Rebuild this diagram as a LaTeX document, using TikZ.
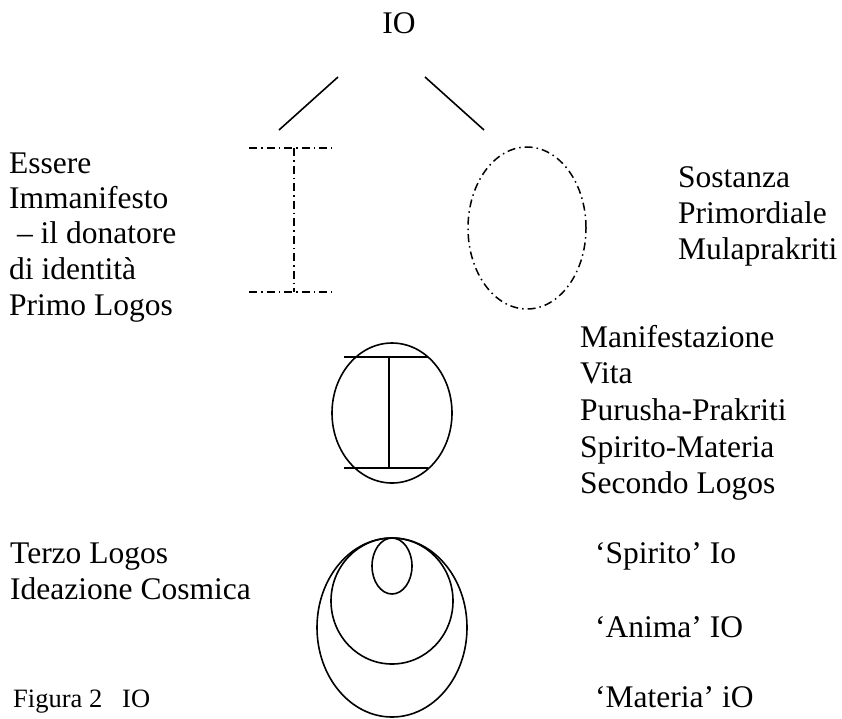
\documentclass[tikz,border=0pt]{standalone}
\usepackage{fontspec}
\setmainfont{Liberation Serif}
\begin{document}
\begin{tikzpicture}[x=1pt,y=-1pt,
  lbl/.style={anchor=base west,inner sep=0pt,font=\fontsize{31.5}{36}\selectfont},
  captxt/.style={anchor=base west,inner sep=0pt,font=\fontsize{26.5}{30}\selectfont},
  solidline/.style={line width=1.6pt},
  dashdot/.style={line width=1.5pt,dash pattern=on 8pt off 4pt on 1.5pt off 4pt}]
\useasboundingbox (0,0) rectangle (842,718);
% title
\node[lbl,anchor=base] (io) at (399,33) {IO};
\coordinate (l1) at (338,77); \coordinate (l2) at (279,130);
\coordinate (r1) at (425,77); \coordinate (r2) at (484,130);
\draw[solidline] (l1) -- (l2);
\draw[solidline] (r1) -- (r2);
% dash-dot I
\coordinate (it1) at (249,148); \coordinate (it2) at (332,148);
\coordinate (ib1) at (249,292); \coordinate (ib2) at (332,292);
\coordinate (iv1) at (294,148); \coordinate (iv2) at (294,292);
\draw[dashdot] (it1) -- (it2);
\draw[dashdot] (ib1) -- (ib2);
\draw[dashdot] (iv1) -- (iv2);
% dash-dot ellipse
\coordinate (ec) at (527,228);
\draw[dashdot] (ec) ellipse [x radius=59pt, y radius=81pt];
% left text
\node[lbl] (t1) at (9,173) {Essere};
\node[lbl] (t2) at (9,208) {Immanifesto};
\node[lbl] (t3) at (9,243) {\hspace*{0.25em}– il donatore};
\node[lbl] (t4) at (9,279) {di identità};
\node[lbl] (t5) at (9,315) {Primo Logos};
% right text
\node[lbl] (s1) at (678,187) {Sostanza};
\node[lbl] (s2) at (678,223) {Primordiale};
\node[lbl] (s3) at (678,259) {Mulaprakriti};
% middle figure
\coordinate (mc) at (392,413);
\draw[solidline] (mc) ellipse [x radius=60pt, y radius=70pt];
\coordinate (mh1) at (344,357); \coordinate (mh2) at (428,357);
\coordinate (mh3) at (344,468); \coordinate (mh4) at (428,468);
\coordinate (mv1) at (389,357); \coordinate (mv2) at (389,468);
\draw[solidline] (mh1) -- (mh2);
\draw[solidline] (mh3) -- (mh4);
\draw[solidline] (mv1) -- (mv2);
\node[lbl] (m1) at (580,347) {Manifestazione};
\node[lbl] (m2) at (580,383) {Vita};
\node[lbl] (m3) at (580,420) {Purusha-Prakriti};
\node[lbl] (m4) at (580,457) {Spirito-Materia};
\node[lbl] (m5) at (580,493) {Secondo Logos};
% nested ellipses
\coordinate (n1) at (392,566);
\coordinate (n2) at (392,601);
\coordinate (n3) at (392,627.5);
\draw[solidline] (n1) ellipse [x radius=20pt, y radius=28pt];
\draw[solidline] (n2) ellipse [x radius=61pt, y radius=63pt];
\draw[solidline] (n3) ellipse [x radius=75pt, y radius=89.5pt];
\node[lbl] (b1) at (10,563) {Terzo Logos};
\node[lbl] (b2) at (10,599) {Ideazione Cosmica};
\node[lbl] (c1) at (595,563) {‘Spirito’ Io};
\node[lbl] (c2) at (595,637) {‘Anima’ IO};
\node[lbl] (c3) at (595,707) {‘Materia’ iO};
% caption
\node[captxt] (f1) at (13,707) {Figura 2};
\node[captxt] (f2) at (122,707) {IO};
\end{tikzpicture}
\end{document}
